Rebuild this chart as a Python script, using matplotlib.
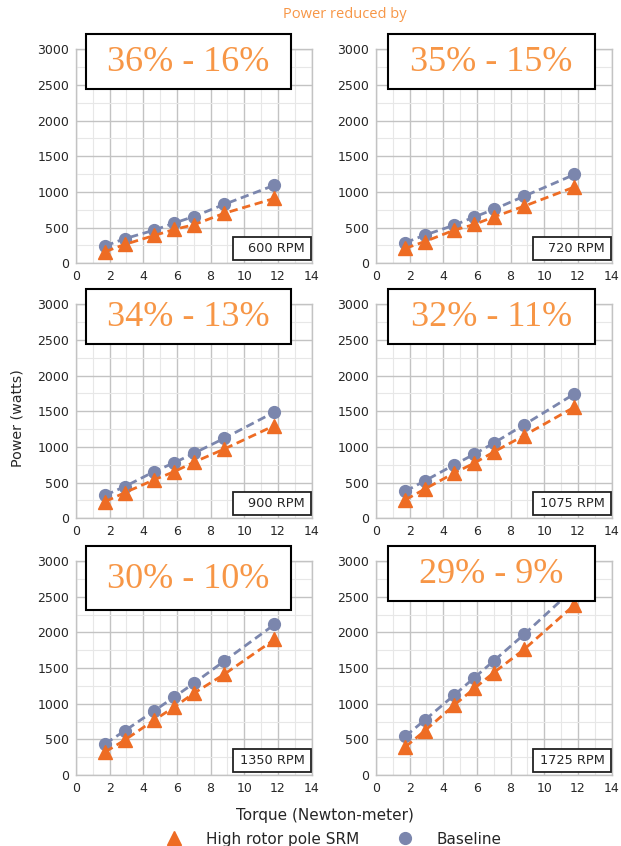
import matplotlib
matplotlib.use("Agg")
import matplotlib.pyplot as plt
from matplotlib.patches import Rectangle
from matplotlib.lines import Line2D
from matplotlib.ticker import MultipleLocator

# Torque operating points (Newton-meter)
torque = [1.75, 2.9, 4.65, 5.85, 7.0, 8.8, 11.8]

speeds = ["600 RPM", "720 RPM", "900 RPM", "1075 RPM", "1350 RPM", "1725 RPM"]
reductions = ["36% - 16%", "35% - 15%", "34% - 13%", "32% - 11%", "30% - 10%", "29% - 9%"]

# Power (watts) for the baseline machine at each speed
baseline_600 = [245, 345, 465, 565, 655, 825, 1095]
baseline_720 = [290, 395, 535, 650, 755, 940, 1245]
baseline_900 = [325, 445, 655, 780, 910, 1120, 1490]
baseline_1075 = [380, 525, 750, 900, 1055, 1310, 1745]
baseline_1350 = [440, 620, 900, 1095, 1285, 1595, 2110]
baseline_1725 = [545, 770, 1120, 1365, 1600, 1970, 2620]

# Power (watts) for the high rotor pole SRM at each speed
srm_600 = [165, 265, 390, 475, 540, 700, 910]
srm_720 = [210, 305, 465, 545, 650, 800, 1070]
srm_900 = [235, 360, 540, 655, 785, 970, 1300]
srm_1075 = [260, 410, 635, 775, 930, 1160, 1560]
srm_1350 = [325, 490, 770, 955, 1145, 1410, 1900]
srm_1725 = [395, 620, 980, 1215, 1435, 1760, 2385]

baseline = [baseline_600, baseline_720, baseline_900,
            baseline_1075, baseline_1350, baseline_1725]
srm = [srm_600, srm_720, srm_900, srm_1075, srm_1350, srm_1725]

C_BASE = "#7b86ad"
C_SRM = "#ee6c24"
C_NOTE = "#f79646"
TICK_C = "#262626"

W, H = 621, 846
fig = plt.figure(figsize=(W / 100, H / 100), dpi=100)

col_left = [76, 376]
row_bottom = [263.3, 518.3, 775]
ax_w, ax_h = 235.5, 214

for i in range(6):
    r, c = divmod(i, 2)
    x0 = col_left[c] / W
    y0 = 1 - row_bottom[r] / H
    ax = fig.add_axes([x0, y0, ax_w / W, ax_h / H])
    ax.set_xlim(0, 14)
    ax.set_ylim(0, 3000)
    ax.xaxis.set_major_locator(MultipleLocator(2))
    ax.xaxis.set_minor_locator(MultipleLocator(1))
    ax.yaxis.set_major_locator(MultipleLocator(500))
    ax.yaxis.set_minor_locator(MultipleLocator(250))
    ax.grid(which="major", color="#c3c3c3", lw=1.0)
    ax.grid(which="minor", color="#e7e7e7", lw=0.8)
    ax.set_axisbelow(True)
    for s in ax.spines.values():
        s.set_color("#c3c3c3")
        s.set_linewidth(1.0)
    ax.tick_params(which="both", length=0, labelsize=9, colors=TICK_C, pad=5)

    ax.plot(torque, baseline[i], color=C_BASE, lw=2.0, ls=(0, (3, 1.7)),
            marker="o", ms=8.5, zorder=3)
    ax.plot(torque, srm[i], color=C_SRM, lw=2.0, ls=(0, (3, 1.7)),
            marker="^", ms=9.5, zorder=4)

    # percentage banner above the plot area
    bx0 = 0.041 if c == 0 else 0.051
    bx1 = 0.913 if c == 0 else 0.928
    btop = 1.070
    bbot = 0.813
    if r == 2 and c == 0:
        bbot = 0.77
    ax.add_patch(Rectangle((bx0, bbot), bx1 - bx0, btop - bbot,
                           transform=ax.transAxes, facecolor="white",
                           edgecolor="black", lw=1.5, clip_on=False, zorder=10))
    ax.text((bx0 + bx1) / 2, (bbot + btop) / 2 - 0.005, reductions[i],
            transform=ax.transAxes, ha="center", va="center",
            fontsize=26, color=C_NOTE, family="Liberation Serif", zorder=11)

    # speed label box
    ax.add_patch(Rectangle((0.667, 0.015), 0.329, 0.108,
                           transform=ax.transAxes, facecolor="white",
                           edgecolor="#222222", lw=1.3, clip_on=False, zorder=10))
    ax.text(0.97, 0.069, speeds[i], transform=ax.transAxes, ha="right",
            va="center", fontsize=9.3, color=TICK_C, zorder=11)

fig.text(345 / W, 1 - 15 / H, "Power reduced by", ha="center", va="center",
         fontsize=10.5, color=C_NOTE, family="Open Sans")
fig.text(18 / W, 1 - 418 / H, "Power (watts)", rotation=90, ha="center",
         va="center", fontsize=10.3, color=TICK_C)
fig.text(325 / W, 1 - 815 / H, "Torque (Newton-meter)", ha="center",
         va="center", fontsize=11, color=TICK_C)

handles = [Line2D([], [], ls="none", marker="^", ms=9.5, color=C_SRM),
           Line2D([], [], ls="none", marker="o", ms=8.5, color=C_BASE)]
fig.legend(handles, ["High rotor pole SRM", "Baseline"], loc="center",
           bbox_to_anchor=(330 / W, 1 - 839 / H), ncol=2, frameon=False,
           fontsize=11, columnspacing=2.0, handletextpad=1.1,
           labelcolor=TICK_C, borderpad=0)

fig.savefig("out.png", dpi=100, facecolor="white")
